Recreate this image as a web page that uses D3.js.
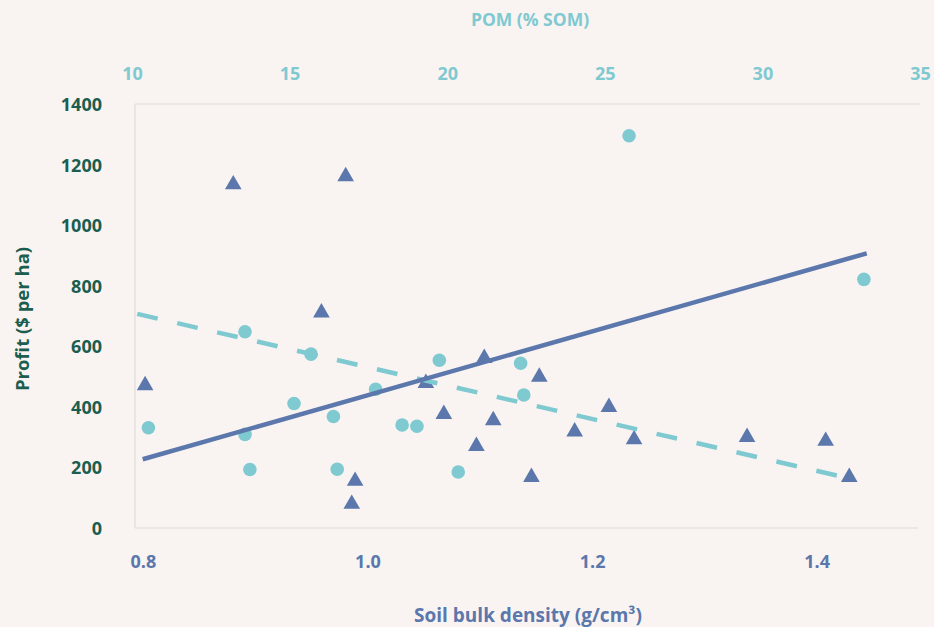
<!DOCTYPE html>
<html><head><meta charset="utf-8">
<script src="https://cdn.jsdelivr.net/npm/d3@7"></script>
<style>
html,body{margin:0;padding:0;background:#F9F4F2;}
svg{display:block;}
text{font-family:"Open Sans",sans-serif;font-weight:700;}
</style></head>
<body>
<svg id="chart" width="934" height="627"></svg>
<script>
// Data
const bulkDensity = [0.8805,0.9806,0.959,0.802,1.052,1.104,1.068,1.112,1.097,0.989,0.986,1.153,1.146,1.1845,1.215,1.2374,1.338,1.408,1.429];
const profitBD    = [1139,1166,716,476,483,566,381,360,275,160,84,504,173,323,404,297,305,292,173];
const pom         = [13.585,15.68,10.52,13.585,13.74,15.14,16.39,16.51,17.73,18.57,19.04,19.75,20.35,22.33,22.43,25.77,33.22];
const profitPOM   = [648,574,331,309,193,411,368,194,458,340,336,554,185,544,439,1295,821];
// trend lines (endpoints)
const trendPOM = [[10.34,227],[33.31,907]];
const trendBD  = [[0.795,707],[1.429,164]];
// ticks
const yTicks = [0,200,400,600,800,1000,1200,1400];
const bdTicks = [0.8,1.0,1.2,1.4];
const pomTicks = [10,15,20,25,30,35];

const C_BLUE = "#5B77AB", C_TEAL = "#7FC9D1", C_GREEN = "#1B5E4F", C_AXIS = "#DEDAD8";

const svg = d3.select("#chart");
const L = 135, R = 920, T = 104, B = 528;

const y = d3.scaleLinear().domain([0,1400]).range([B,T]);
const xB = d3.scaleLinear().domain([0.793,1.492]).range([L,R]);
const xT = d3.scaleLinear().domain([10,35]).range([132,920]);

// axis lines
svg.append("line").attr("x1",L).attr("x2",L).attr("y1",T).attr("y2",B).attr("stroke",C_AXIS).attr("stroke-width",1.2);
svg.append("line").attr("x1",L).attr("x2",R).attr("y1",T).attr("y2",T).attr("stroke",C_AXIS).attr("stroke-width",1.2);
svg.append("line").attr("x1",L).attr("x2",R-2).attr("y1",B).attr("y2",B).attr("stroke",C_AXIS).attr("stroke-width",1.2);

// y axis
const yAxis = d3.axisLeft(y).tickValues(yTicks).tickSize(0).tickPadding(0).tickFormat(d3.format("d"));
const gy = svg.append("g").attr("transform",`translate(102,0)`).call(yAxis);
gy.select(".domain").remove();
gy.selectAll("text").attr("fill",C_GREEN).style("font-size","18px").attr("dy","0.36em");

// bottom axis
const bAxis = d3.axisBottom(xB).tickValues(bdTicks).tickSize(0).tickPadding(0).tickFormat(d3.format(".1f"));
const gb = svg.append("g").attr("transform",`translate(0,562)`).call(bAxis);
gb.select(".domain").remove();
gb.selectAll("text").attr("fill",C_BLUE).style("font-size","18px").attr("dy","0.36em");

// top axis
const tAxis = d3.axisTop(xT).tickValues(pomTicks).tickSize(0).tickPadding(0).tickFormat(d3.format("d"));
const gt = svg.append("g").attr("transform",`translate(0,74)`).call(tAxis);
gt.select(".domain").remove();
gt.selectAll("text").attr("fill",C_TEAL).style("font-size","18px").attr("dy","0.36em");

// titles
svg.append("text").attr("x",530).attr("y",20).attr("dy","0.36em").attr("text-anchor","middle")
  .attr("fill",C_TEAL).style("font-size","17.5px").text("POM (% SOM)");
svg.append("text").attr("x",528).attr("y",615).attr("dy","0.36em").attr("text-anchor","middle")
  .attr("fill",C_BLUE).style("font-size","19px").text("Soil bulk density (g/cm³)");
svg.append("text").attr("transform","translate(22,319) rotate(-90)").attr("dy","0.36em").attr("text-anchor","middle")
  .attr("fill",C_GREEN).style("font-size","18.5px").text("Profit ($ per ha)");

// circles
svg.append("g").selectAll("circle").data(pom).join("circle")
  .attr("cx",(d)=>xT(d)).attr("cy",(d,i)=>y(profitPOM[i])).attr("r",6.8).attr("fill",C_TEAL);

// triangles
const tri = d3.symbol().type(d3.symbolTriangle).size(120);
svg.append("g").selectAll("path").data(bulkDensity).join("path")
  .attr("d",tri)
  .attr("transform",(d,i)=>`translate(${xB(d)},${y(profitBD[i])+1.5})`)
  .attr("fill",C_BLUE);

// trend lines
const lineT = d3.line().x(d=>xT(d[0])).y(d=>y(d[1]));
const lineB = d3.line().x(d=>xB(d[0])).y(d=>y(d[1]));
svg.append("path").attr("d",lineB(trendBD)).attr("fill","none").attr("stroke",C_TEAL)
  .attr("stroke-width",4.5).attr("stroke-dasharray","21,20");
svg.append("path").attr("d",lineT(trendPOM)).attr("fill","none").attr("stroke",C_BLUE)
  .attr("stroke-width",4.5);
</script>
</body></html>
